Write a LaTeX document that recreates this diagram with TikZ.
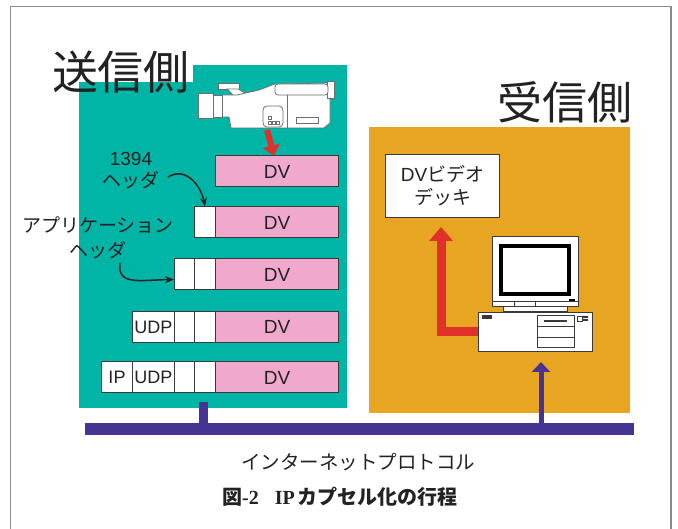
\documentclass[tikz,border=0pt]{standalone}
\usepackage{fontspec}
\setmainfont{Liberation Sans}
\newfontfamily\cjk{Noto Sans CJK JP}
\newfontfamily\capserif{Liberation Serif}
\usetikzlibrary{arrows.meta}

\definecolor{sendbg}{HTML}{00B4A6}
\definecolor{recvbg}{HTML}{E8A522}
\definecolor{dvpink}{HTML}{F0A8CC}
\definecolor{netblue}{HTML}{473492}
\definecolor{flowred}{HTML}{E0302A}
\definecolor{ink}{HTML}{222222}
\definecolor{framegray}{HTML}{8A8A8A}
\definecolor{boxline}{HTML}{3A3A3A}
\definecolor{camline}{HTML}{6E6E6E}

\tikzset{
  txt/.style={text=ink, inner sep=0pt},
  pk/.style={draw=boxline, line width=1pt, inner sep=0pt, minimum height=31pt,
             anchor=west, fill=white, text=ink, font=\fontsize{18}{20}\selectfont},
  dvbox/.style={pk, fill=dvpink, minimum width=123pt, font=\fontsize{19}{21}\selectfont},
  hdbox/.style={pk},
  hdarrow/.style={ink, line width=1.5pt, -{Stealth[length=9pt,width=7pt]}},
  redflow/.style={flowred, line width=#1, line join=miter},
  camdraw/.style={draw=camline, line width=0.8pt, fill=white},
  pcdraw/.style={draw=boxline, line width=1pt, fill=white},
}

\begin{document}
\begin{tikzpicture}[x=1pt,y=-1pt]
\useasboundingbox (0,0) rectangle (678,529);
\fill[white] (0,0) rectangle (678,529);

% outer frame
\draw[framegray, line width=1.3pt] (10.5,529) -- (10.5,6.5) -- (671,6.5) -- (671,529);

% sending and receiving areas
\node[fill=sendbg, inner sep=0pt, minimum width=268pt, minimum height=343pt, anchor=north west] (sendarea) at (79,65) {};
\node[fill=recvbg, inner sep=0pt, minimum width=261pt, minimum height=286pt, anchor=north west] (recvarea) at (369,127) {};

% titles
\fill[white] (40,38) rectangle (193,82);
\node[txt, font=\cjk\fontsize{46}{50}\selectfont] (sendtitle) at (121,72) {送信側};
\node[txt, font=\cjk\fontsize{45}{50}\selectfont] (recvtitle) at (565,102) {受信側};

% video camera
\path[camdraw] (218,83) rectangle (239,89);
\path[camdraw] (227,89) -- (234,96) -- (247,94) -- (238,89) -- cycle;
\path[camdraw] (222,95) -- (237,95) -- (250,92) .. controls (262,90) and (268,86) .. (275,84)
      -- (330,83) -- (330,123) -- (324,128) -- (231,128) -- (229,117) -- (222,117) -- cycle;
\path[camdraw] (198,93) rectangle (213,118);
\path[camdraw] (213,95) rectangle (222,117);
\path[camdraw] (327,81) rectangle (334,98);
\path[camdraw, rounded corners=3pt] (275,84) rectangle (328,95);
\draw[camline, line width=0.8pt] (287,95) -- (287,128);
\path[camdraw] (296,117) rectangle (318,123);
\path[camdraw, rounded corners=4pt] (263,106) rectangle (283,127);
\draw[camline, line width=0.8pt] (268,116) rectangle (271,119) (268,121) rectangle (271,124)
      (272,121) rectangle (275,124) (276,121) rectangle (279,124);
\coordinate (camout) at (267,130);

% packets
\node[dvbox] (dv1) at (215,171.5) {DV};

\node[hdbox, minimum width=21pt] (hd2a) at (194,222.5) {};
\node[dvbox] (dv2) at (215,222.5) {DV};

\node[hdbox, minimum width=20pt] (hd3b) at (174,274.5) {};
\node[hdbox, minimum width=21pt] (hd3a) at (194,274.5) {};
\node[dvbox] (dv3) at (215,274.5) {DV};

\node[hdbox, minimum width=42pt] (udp4) at (132,327) {UDP};
\node[hdbox, minimum width=20pt] (hd4b) at (174,327) {};
\node[hdbox, minimum width=21pt] (hd4a) at (194,327) {};
\node[dvbox] (dv4) at (215,327) {DV};

\node[hdbox, minimum width=31pt] (ip5) at (101,377.5) {IP};
\node[hdbox, minimum width=42pt] (udp5) at (132,377.5) {UDP};
\node[hdbox, minimum width=20pt] (hd5b) at (174,377.5) {};
\node[hdbox, minimum width=21pt] (hd5a) at (194,377.5) {};
\node[dvbox] (dv5) at (215,377.5) {DV};

% camera output into the first packet
\draw[redflow=6pt, -{Triangle[length=10pt,width=17pt]}] (camout) -- (dv1.north -| 274,0);

% header labels
\node[txt, align=center, font=\fontsize{19}{22}\selectfont] (lbl1394) at (131,171) {1394\\{\cjk ヘッダ}};
\node[txt, align=center, font=\cjk\fontsize{19}{25}\selectfont] (lblapp) at (98,237.5) {アプリケーション\\ヘッダ};
\coordinate (a1s) at (168,177);
\coordinate (a2s) at (120,263);
\draw[hdarrow] (a1s) .. controls (186,166) and (201,186) .. (hd2a.north);
\draw[hdarrow] (a2s) .. controls (117,286) and (140,280) .. ([yshift=-5pt]hd3b.west);

% video deck
\node[draw=boxline, line width=1pt, fill=white, text=ink, inner sep=0pt,
      minimum width=114pt, minimum height=63pt, anchor=north west, align=center,
      font=\fontsize{19}{23}\selectfont] (deck) at (385,154) {DV{\cjk ビデオ}\\{\cjk デッキ}};

% personal computer
\path[pcdraw] (492,237) rectangle (578,307);
\draw[black, line width=4pt, fill=white] (501,246) rectangle (569,294);
\draw[boxline, line width=1pt] (492,302) -- (578,302) (514,302) -- (514,307) (535,302) -- (535,307);
\fill[black] (569,299) rectangle (575,301);
\path[pcdraw] (503,307) rectangle (567,312);
\node[draw=boxline, line width=1pt, fill=white, inner sep=0pt, minimum width=114pt,
      minimum height=39pt, anchor=north west] (pcbase) at (478,312) {};
\begin{scope}[boxline, line width=0.8pt]
  \fill (482,315) rectangle (492,319);
  \draw (537,315) rectangle (574,347);
  \draw[line width=1.6pt] (544,321) -- (567,321);
  \draw (537,326) -- (574,326) (537,337) -- (574,337);
  \draw (577,316) rectangle (582,321);
  \fill (583,316) rectangle (588,318) (583,319) rectangle (588,321);
\end{scope}

% computer output to the deck
\coordinate (deckin) at (441,227);
\draw[redflow=9pt, -{Triangle[length=14pt,width=23pt]}] (pcbase.west) -| (deckin);

% network bus
\node[fill=netblue, inner sep=0pt, minimum width=549pt, minimum height=12pt] (bus) at (359.5,429) {};
\fill[netblue] (199,402) rectangle (208,429);
\coordinate (pcin) at (541,362);
\draw[netblue, line width=5pt, -{Triangle[length=10pt,width=18pt]}] (bus.center -| pcin) -- (pcin);

\node[txt, font=\cjk\fontsize{19.5}{22}\selectfont] (netlabel) at (358,462) {インターネットプロトコル};
\node[txt, font=\fontsize{20}{22}\selectfont] (caption) at (340,497)
  {{\cjk\bfseries 図}{\capserif\bfseries -2}\hspace{16pt}{\capserif\bfseries IP}\hspace{3pt}{\cjk\bfseries カプセル化の行程}};
\end{tikzpicture}
\end{document}
